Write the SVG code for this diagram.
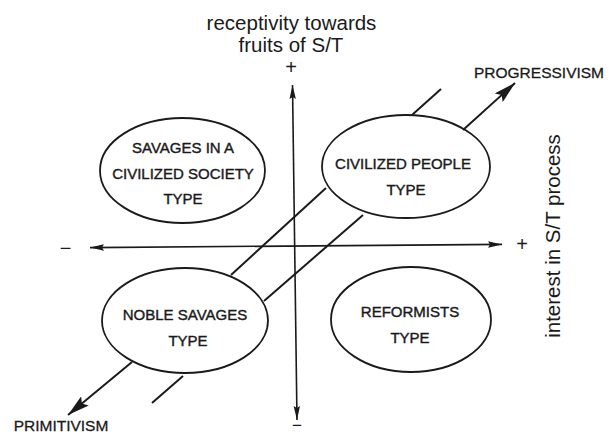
<svg xmlns="http://www.w3.org/2000/svg" width="609" height="435" viewBox="0 0 609 435">
  <defs>
    <style>
      .bg { fill: #ffffff; }
      .node ellipse { fill: none; stroke: #1a1a1a; stroke-width: 1.8; }
      .node text { font-family: "Liberation Sans", Arial, sans-serif; font-size: 15px; fill: #1a1a1a; stroke: #1a1a1a; stroke-width: 0.4; text-anchor: middle; }
      .axis { fill: none; stroke: #1a1a1a; stroke-width: 1.6; }
      .path { fill: none; stroke: #1a1a1a; stroke-width: 2; }
      .label { font-family: "Liberation Sans", Arial, sans-serif; fill: #1a1a1a; text-anchor: middle; }
      .axislabel { font-size: 20.5px; }
      .sign { font-size: 20px; }
      .trend { font-size: 15.5px; stroke: #1a1a1a; stroke-width: 0.3; }
    </style>
    <marker id="axisHead" viewBox="0 0 14 8" refX="14" refY="4" markerWidth="14" markerHeight="8" markerUnits="userSpaceOnUse" orient="auto-start-reverse">
      <path d="M0,0.8 L14,4 L0,7.2 L2,4 z" fill="#1a1a1a"/>
    </marker>
    <marker id="bigHead" viewBox="0 0 22 12" refX="22" refY="6" markerWidth="22" markerHeight="12" markerUnits="userSpaceOnUse" orient="auto">
      <path d="M0,0 L22,6 L0,12 L4,6 z" fill="#1a1a1a"/>
    </marker>
  </defs>

  <rect class="bg" x="0" y="0" width="609" height="435"/>

  <!-- connectors: axes, the development corridor and its trend arrows -->
  <g id="connectors">
    <line class="axis" x1="90" y1="247.6" x2="502" y2="244.4" marker-start="url(#axisHead)" marker-end="url(#axisHead)"/>
    <line class="axis" x1="292.5" y1="85" x2="297" y2="420" marker-start="url(#axisHead)" marker-end="url(#axisHead)"/>
    <line class="path" x1="231" y1="275" x2="326" y2="188"/>
    <line class="path" x1="264" y1="301" x2="363" y2="215"/>
    <line class="path" x1="412" y1="115" x2="441" y2="89"/>
    <line class="path" x1="183" y1="376" x2="152" y2="403"/>
    <line class="path" x1="463" y1="130" x2="515" y2="83" marker-end="url(#bigHead)"/>
    <line class="path" x1="132" y1="362" x2="68" y2="415" marker-end="url(#bigHead)"/>
  </g>

  <!-- axis captions and signs -->
  <g id="axis-labels">
    <text class="label axislabel" x="291.5" y="30">receptivity towards</text>
    <text class="label axislabel" x="291" y="52">fruits of S/T</text>
    <text class="label sign" x="291" y="74">+</text>
    <text class="label sign" x="522" y="251">+</text>
    <text class="label sign" x="65.5" y="254.5">−</text>
    <text class="label sign" x="297" y="431" style="font-size:17px">−</text>
    <text class="label axislabel" transform="translate(560,236) rotate(-90)" x="0" y="0">interest in S/T process</text>
    <text class="label trend" x="539" y="78">PROGRESSIVISM</text>
    <text class="label trend" x="61" y="431">PRIMITIVISM</text>
  </g>

  <g id="savages-in-civilized-society" class="node">
    <ellipse cx="182.5" cy="170.5" rx="82.5" ry="52.5"/>
    <text x="183" y="153">SAVAGES IN A</text>
    <text x="183" y="178.5">CIVILIZED SOCIETY</text>
    <text x="183" y="204">TYPE</text>
  </g>

  <g id="civilized-people" class="node">
    <ellipse cx="406" cy="166.5" rx="84" ry="51.5"/>
    <text x="403" y="168.5">CIVILIZED PEOPLE</text>
    <text x="406" y="194.5">TYPE</text>
  </g>

  <g id="noble-savages" class="node">
    <ellipse cx="185" cy="320.5" rx="83" ry="52.5"/>
    <text x="185" y="320">NOBLE SAVAGES</text>
    <text x="188" y="346">TYPE</text>
  </g>

  <g id="reformists" class="node">
    <ellipse cx="411" cy="319.5" rx="80" ry="52.5"/>
    <text x="410" y="317">REFORMISTS</text>
    <text x="410" y="343">TYPE</text>
  </g>
</svg>
